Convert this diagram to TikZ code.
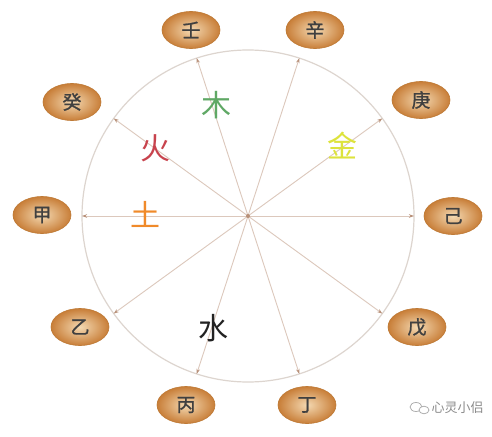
\documentclass[tikz,border=0pt]{standalone}
\usepackage{fontspec}
\newfontfamily\cjk{Noto Sans CJK SC}
\newfontfamily\cjkb{Noto Sans CJK SC}[FakeBold=1.2]
\usetikzlibrary{arrows.meta,shapes.geometric}
\definecolor{raycol}{HTML}{DCC8BC}
\definecolor{circcol}{HTML}{DDD5CF}
\definecolor{ovalin}{HTML}{F4D9B2}
\definecolor{ovalout}{HTML}{C87E38}
\definecolor{ovaldraw}{HTML}{BE7A36}
\definecolor{tipcol}{HTML}{B89078}
\definecolor{mucol}{HTML}{5FA865}
\definecolor{huocol}{HTML}{C8434D}
\definecolor{jincol}{HTML}{DDE33C}
\definecolor{tucol}{HTML}{F08A2A}
\definecolor{shuicol}{HTML}{222222}
\begin{document}
\begin{tikzpicture}[x=1pt,y=-1pt,
  stem/.style={ellipse, minimum width=58pt, minimum height=37pt, inner sep=0pt,
    draw=ovaldraw, line width=0.6pt, shading=radial, inner color=ovalin, outer color=ovalout,
    font=\cjkb\fontsize{19}{19}\selectfont, text=black!75},
  ray/.style={draw=raycol, line width=0.9pt, -{Stealth[length=5pt,width=3.5pt,color=tipcol]}},
  elem/.style={font=\cjk\fontsize{30}{30}\selectfont, inner sep=0pt}]
\useasboundingbox[fill=white] (0,0) rectangle (492,436);
\node[circle, draw=circcol, line width=1.2pt, minimum size=332pt, inner sep=0pt, outer sep=0pt] (c) at (248,216) {};
\coordinate (o) at (248,216);
\foreach \a in {0,36,72,108,144,180,216,252,288,324}{
  \draw[ray] (o) -- (c.\a);
}
\fill[tipcol] (o) circle (2pt);
\node[stem] (ren) at (191,30) {壬};
\node[stem] (xin) at (315,30) {辛};
\node[stem] (gui) at (72,102) {癸};
\node[stem] (geng) at (421,100) {庚};
\node[stem] (jia) at (42,215) {甲};
\node[stem] (ji) at (453,216) {己};
\node[stem] (yi) at (80,327) {乙};
\node[stem] (wu) at (417,327) {戊};
\node[stem] (bing) at (186,405) {丙};
\node[stem] (ding) at (307,405) {丁};
\node[elem, text=mucol] (mu) at (216,105) {木};
\node[elem, text=huocol] (huo) at (155,148) {火};
\node[elem, text=jincol] (jin) at (342,146) {金};
\node[elem, text=tucol] (tu) at (145,214) {土};
\node[elem, text=shuicol] (shui) at (213,328) {水};
\node[font=\cjk\fontsize{13}{13}\selectfont, text=black!45, anchor=west] (wm) at (428,408) {心灵小侣};
\draw[black!35, line width=0.7pt] (416,407) ellipse (6pt and 4.5pt);
\draw[black!35, line width=0.7pt, fill=white] (424,410) ellipse (5pt and 3.8pt);
\end{tikzpicture}
\end{document}
